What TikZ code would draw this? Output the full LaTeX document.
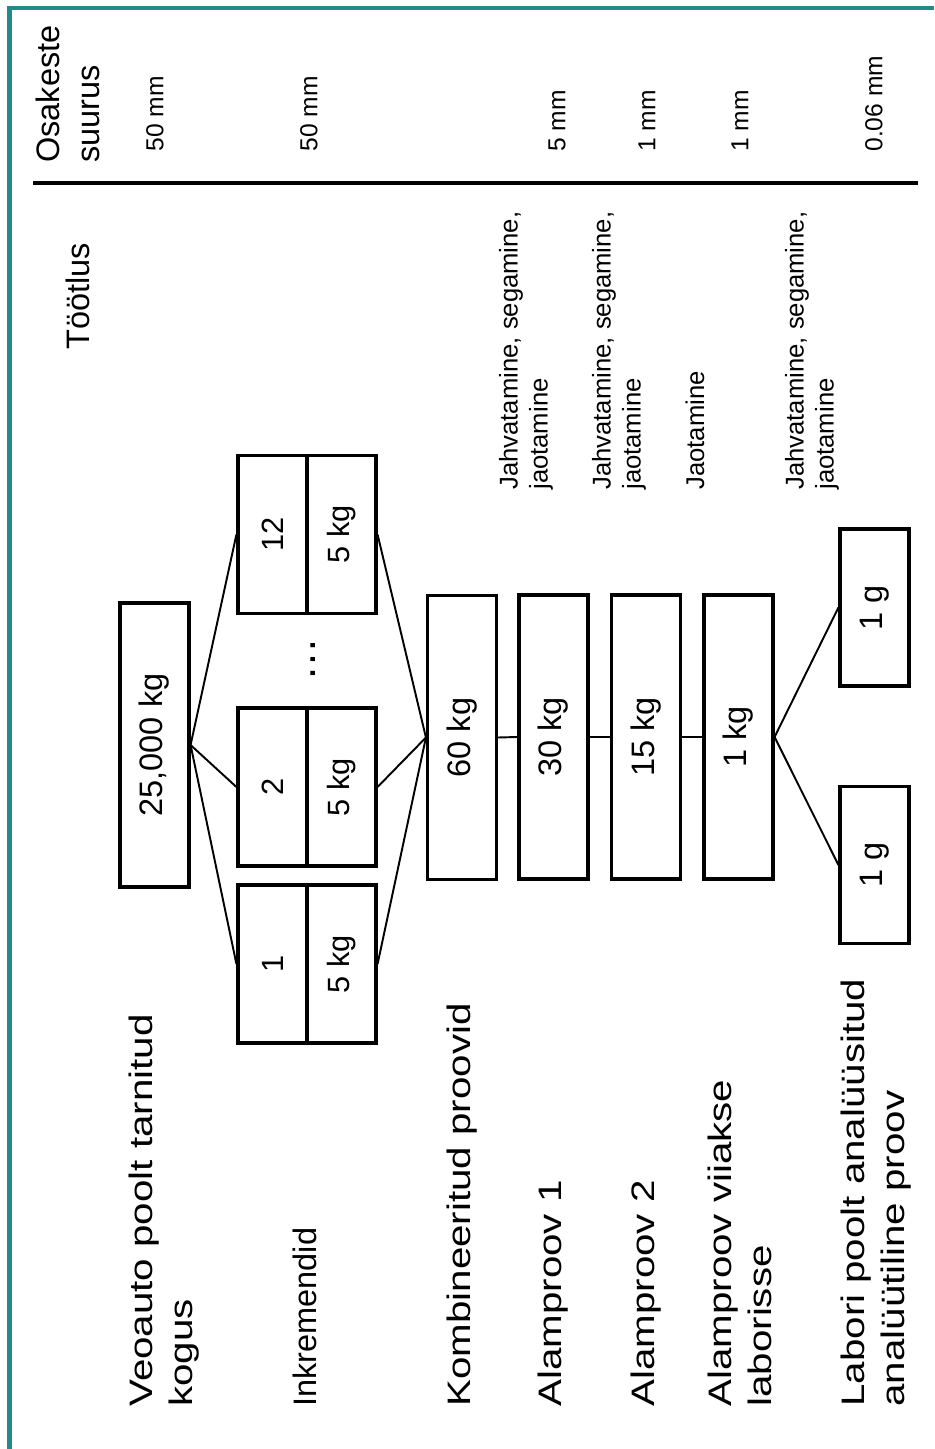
\documentclass[tikz,border=0pt]{standalone}
\usepackage{fontspec}
\setmainfont{Liberation Sans}
\usepackage{tikz}
\definecolor{frameteal}{RGB}{33,139,137}

\begin{document}
\begin{tikzpicture}[
    x=0.02cm, y=-0.02cm,
    stage/.style={draw, line width=1.8pt, rotate=90, inner sep=0pt,
                  minimum width=5.68cm, minimum height=1.38cm,
                  font=\fontsize{18.5}{22}\selectfont},
    part/.style={draw, line width=1.8pt, rotate=90, inner sep=0pt,
                 minimum width=3.16cm, minimum height=1.38cm,
                 font=\fontsize{17.5}{21}\selectfont},
    labo/.style={part, minimum width=3.14cm, font=\fontsize{18.5}{22}\selectfont},
    head/.style={rotate=90, anchor=west, align=left, inner sep=0pt,
                 font=\fontsize{18.5}{22.7}\selectfont},
    rowlabel/.style={rotate=90, xscale=1.24, anchor=west, align=left, inner sep=0pt,
                     font=\fontsize{18.5}{22.7}\selectfont},
    treat/.style={rotate=90, anchor=west, align=left, inner sep=0pt,
                  font=\fontsize{14.6}{17}\selectfont},
    size/.style={rotate=90, anchor=west, inner sep=0pt,
                 font=\fontsize{14}{17}\selectfont},
    link/.style={line width=1.1pt}
]
\useasboundingbox (0,0) rectangle (934,1449);
\draw[frameteal, line width=2.5pt] (9.5,1449) -- (9.5,8) -- (934,8);

\node[head] (hsize)  at (68,163)  {Osakeste\\suurus};
\node[head] (htreat) at (78,350)  {Töötlus};
\coordinate (rulel) at (33,183);
\coordinate (ruler) at (918,183);
\draw[line width=1.9pt] (rulel) -- (ruler);

\node[size] (ps1) at (155,152) {50 mm};
\node[size] (ps2) at (309,152) {50 mm};
\node[size] (ps4) at (557,152) {5 mm};
\node[size] (ps5) at (647,152) {1 mm};
\node[size] (ps6) at (740,152) {1 mm};
\node[size] (ps7) at (874,152) {0.06 mm};

\node[treat] (tr1) at (526,490) {Jahvatamine, segamine,\\jaotamine};
\node[treat] (tr2) at (619,490) {Jahvatamine, segamine,\\jaotamine};
\node[treat] (tr3) at (695,490) {Jaotamine};
\node[treat] (tr4) at (812,490) {Jahvatamine, segamine,\\jaotamine};

\node[stage] (truck) at (154.5,745) {25,000 kg};
\node[part] (inc12a) at (272.5,534.5) {12};
\node[part] (inc12b) at (341.5,534.5) {5 kg};
\node[part] (inc2a)  at (272.5,787) {2};
\node[part] (inc2b)  at (341.5,787) {5 kg};
\node[part] (inc1a)  at (272.5,964) {1};
\node[part] (inc1b)  at (341.5,964) {5 kg};
\node[rotate=90, anchor=base, inner sep=0pt, font=\fontsize{25}{28}\selectfont] (dots) at (315,660) {…};
\node[stage] (s60) at (462,737.5) {60 kg};
\node[stage] (s30) at (553.5,737) {30 kg};
\node[stage] (s15) at (646,737) {15 kg};
\node[stage] (s1)  at (738.5,737) {1 kg};
\node[labo] (g1) at (874.5,607.5) {1 g};
\node[labo] (g2) at (874.5,865) {1 g};

\draw[link] (truck.south) -- (inc12a.north);
\draw[link] (truck.south) -- (inc2a.north);
\draw[link] (truck.south) -- (inc1a.north);
\draw[link] (inc12b.south) -- (s60.north);
\draw[link] (inc2b.south) -- (s60.north);
\draw[link] (inc1b.south) -- (s60.north);
\draw[link] (s60.south) -- (s30.north);
\draw[link] (s30.south) -- (s15.north);
\draw[link] (s15.south) -- (s1.north);
\draw[link] (s1.south) -- (g1.north);
\draw[link] (s1.south) -- (g2.north);

\node[rowlabel] (lab1) at (164,1407) {Veoauto poolt tarnitud\\kogus};
\node[rowlabel, xscale=1/1.24] (lab2) at (305,1407) {Inkremendid};
\node[rowlabel] (lab3) at (462,1407) {Kombineeritud proovid};
\node[rowlabel] (lab4) at (553,1407) {Alamproov 1};
\node[rowlabel] (lab5) at (646,1407) {Alamproov 2};
\node[rowlabel] (lab6) at (740,1407) {Alamproov viiakse\\laborisse};
\node[rowlabel] (lab7) at (876,1407) {Labori poolt analüüsitud\\analüütiline proov};
\end{tikzpicture}
\end{document}
